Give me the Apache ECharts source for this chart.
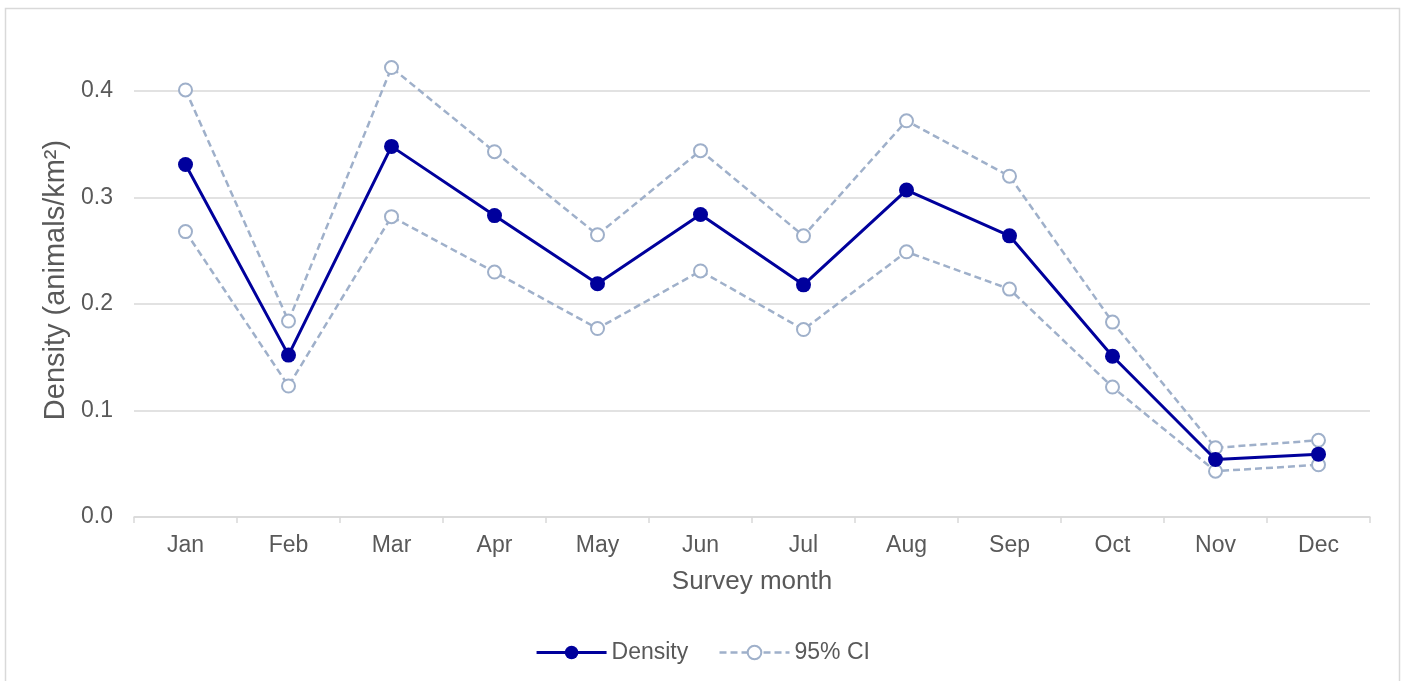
<!DOCTYPE html>
<html>
<head>
<meta charset="utf-8">
<title>Monthly density</title>
<script src="https://cdn.jsdelivr.net/npm/echarts@6/dist/echarts.min.js"></script>
<style>
  html, body { margin: 0; padding: 0; background: #ffffff; }
  #chart { width: 1405px; height: 681px; }
</style>
</head>
<body>
<div id="chart"></div>
<script>
// Survey months and density estimates with their 95% confidence bounds
const months = ['Jan', 'Feb', 'Mar', 'Apr', 'May', 'Jun', 'Jul', 'Aug', 'Sep', 'Oct', 'Nov', 'Dec'];
const density = [0.331, 0.152, 0.348, 0.283, 0.219, 0.284, 0.218, 0.307, 0.264, 0.151, 0.054, 0.059];
const ciUpper = [0.401, 0.184, 0.422, 0.343, 0.265, 0.344, 0.264, 0.372, 0.320, 0.183, 0.065, 0.072];
const ciLower = [0.268, 0.123, 0.282, 0.230, 0.177, 0.231, 0.176, 0.249, 0.214, 0.122, 0.043, 0.049];
const yTicks = { min: 0, max: 0.4, interval: 0.1 };

const textColor = '#595959';
const gridColor = '#d9d9d9';
const densityColor = '#00009c';
const ciColor = '#9fb0ca';
const fontFamily = '"Liberation Sans", Arial, sans-serif';

const chart = echarts.init(document.getElementById('chart'));

function ciSeries(values) {
  return {
    name: '95% CI',
    type: 'line',
    data: values,
    clip: false,
    symbol: 'circle',
    symbolSize: 13,
    itemStyle: { color: '#ffffff', borderColor: ciColor, borderWidth: 2 },
    lineStyle: { color: ciColor, width: 2.5, type: [7, 4] },
    z: 2
  };
}

chart.setOption({
  animation: false,
  textStyle: { fontFamily: fontFamily },
  graphic: [{
    type: 'rect',
    shape: { x: 5.5, y: 8.5, width: 1394, height: 700 },
    style: { fill: 'none', stroke: gridColor, lineWidth: 1.5 },
    silent: true
  }],
  grid: { left: 134, right: 35, top: 91, bottom: 164 },
  legend: {
    data: [
      { name: 'Density', lineStyle: { width: 3 } },
      { name: '95% CI', lineStyle: { width: 2.5 }, itemStyle: { borderWidth: 2 } }
    ],
    bottom: 12,
    left: 'center',
    itemWidth: 70,
    itemHeight: 17,
    itemGap: 30,
    textStyle: { color: textColor, fontSize: 23, fontFamily: fontFamily }
  },
  xAxis: {
    type: 'category',
    data: months,
    boundaryGap: true,
    name: 'Survey month',
    nameLocation: 'middle',
    nameGap: 52,
    nameTextStyle: { color: textColor, fontSize: 26, fontFamily: fontFamily },
    axisLine: { lineStyle: { color: gridColor, width: 1.5 } },
    axisTick: { show: true, length: 6, lineStyle: { color: gridColor, width: 1.5 } },
    axisLabel: { color: textColor, fontSize: 23, margin: 17, fontFamily: fontFamily }
  },
  yAxis: {
    type: 'value',
    min: yTicks.min,
    max: yTicks.max,
    interval: yTicks.interval,
    name: 'Density (animals/km²)',
    nameLocation: 'middle',
    nameGap: 60,
    nameTextStyle: { color: textColor, fontSize: 29, fontFamily: fontFamily, padding: [0, 0, 0, 48] },
    axisLine: { show: false },
    axisTick: { show: false },
    splitLine: { lineStyle: { color: gridColor, width: 1.5 } },
    axisLabel: {
      color: textColor, fontSize: 23, margin: 21, fontFamily: fontFamily,
      formatter: v => v.toFixed(1)
    }
  },
  series: [
    ciSeries(ciUpper),
    ciSeries(ciLower),
    {
      name: 'Density',
      type: 'line',
      data: density,
      clip: false,
      symbol: 'circle',
      symbolSize: 15,
      itemStyle: { color: densityColor },
      lineStyle: { color: densityColor, width: 3 },
      z: 3
    }
  ]
});
</script>
</body>
</html>
